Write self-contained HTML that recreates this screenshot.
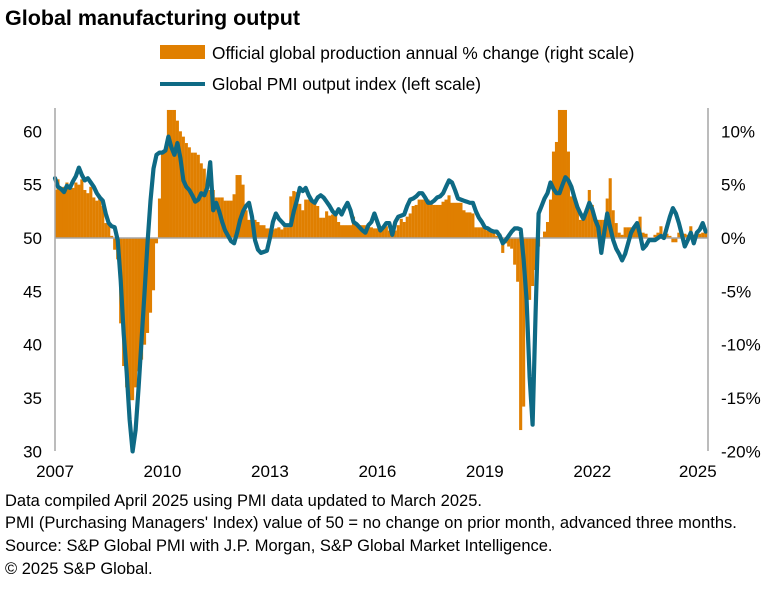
<!DOCTYPE html>
<html><head><meta charset="utf-8">
<style>
body{margin:0;background:#fff;width:775px;height:585px;overflow:hidden;font-family:"Liberation Sans",Arial,sans-serif;}
svg text{font-family:"Liberation Sans",Arial,sans-serif;}
</style></head>
<body>
<svg id="chart" width="775" height="585" xmlns="http://www.w3.org/2000/svg">
<text x="5" y="25" font-size="21.5" font-weight="bold" fill="#000">Global manufacturing output</text>
<g>
<rect x="160" y="45" width="45" height="14" fill="#E07F00"/>
<text x="212" y="59" font-size="17.3" fill="#000">Official global production annual % change (right scale)</text>
<line x1="160" y1="84" x2="205" y2="84" stroke="#0E6A85" stroke-width="4"/>
<text x="212" y="90" font-size="17.3" fill="#000">Global PMI output index (left scale)</text>
</g>
<g id="plot"></g>
<g font-size="16.5" fill="#000">
<text x="5" y="506">Data compiled April 2025 using PMI data updated to March 2025.</text>
<text x="5" y="528">PMI (Purchasing Managers' Index) value of 50 = no change on prior month, advanced three months.</text>
<text x="5" y="551">Source: S&amp;P Global PMI with J.P. Morgan, S&amp;P Global Market Intelligence.</text>
<text x="5" y="574">© 2025 S&amp;P Global.</text>
</g>
</svg>
<script>
const pmi = [
55.6,54.8,54.6,54.3,54.9,54.7,55.3,55.8,56.6,55.9,55.4,55.6,
55.2,54.8,54.2,53.8,53.5,52.3,51.4,51.1,51,49.8,46,41,
37.5,33,30,32,36,40.5,45,49.5,53.5,56.5,57.8,58,
58,58.2,59.5,58.5,57.8,58.9,57.5,55.4,54.8,54.5,54,53.4,
53.6,54.2,54,54.7,57.1,52.6,53.3,52.5,51.5,50.7,50.2,49.7,
49.5,50.5,51.7,52.5,53,53.3,52,49.8,48.9,48.6,48.7,48.8,
50,51.5,52.3,51.8,51.5,51.2,51.2,51.2,52.5,53.5,54.7,54.4,
54.7,54,53.5,53.3,53.8,54,53.8,53.4,53,52.5,52.2,52.7,
52.2,52.8,53.3,52.6,51.5,51.3,51,50.7,50.5,51.2,51.5,52.3,
51.5,50.7,51,51.4,51.4,50.3,51.5,52,52.1,52.2,53,53.6,
53.7,53.9,54.2,54.2,53.8,53.3,53.3,53.5,53.8,53.9,54.2,54.8,
55.4,55.2,54.5,53.7,53.6,53.5,53.4,53.3,53.3,52.5,51.9,51.5,
51,50.9,50.7,50.6,50.6,50.2,49.5,49.8,50.2,50.6,50.9,50.9,
50.8,48,44.2,37,32.5,43,52.3,53,53.7,54.2,55.2,54.6,
54.2,54.2,55,55.7,55.4,54.8,53.8,52.9,52.3,51.8,52.5,53.3,
52.7,51.7,51,48.6,50.5,52.3,51,49.8,49,48.5,47.9,48.5,
49.5,50.5,51,51.4,50.3,49,49.3,49.8,49.8,49.8,50,50.2,
50,51,52,52.8,52.3,51.4,50.3,49.2,49.8,50.5,49.5,50.5,
50.8,51.4,50.6];
const production = [
4.5,5.5,4.5,4.8,5.2,4.8,4.7,5.2,5,5.5,4.5,4.2,
4.8,3.8,3.5,3.8,3,1.4,1.3,0.2,-1.1,-2,-8,-12,
-14,-15.2,-15.2,-14,-12.5,-11.4,-10,-8.9,-7,-4.9,-0.5,3.7,
8.2,8.2,12,12,12,11,10,9.5,8.9,8.5,8,8,
7.8,7,6.5,4.5,4.5,4.5,3.8,3.8,3.8,3.5,3.5,3.5,
4.1,5.9,5.9,5,2.6,1.7,1.7,1.7,1.5,1.2,1.2,0.9,
0.9,0.8,0.9,1,0.8,1,1,3.9,4.4,4.3,3.2,2.6,
3.6,3.6,3.6,3.3,3,1.9,1.9,2.5,2.1,2.2,2.2,1.5,
1.2,1.2,1.2,1.2,2,1.3,1.2,1.2,1.2,1.2,1,0.9,
0.9,0.9,0.9,1.1,0.7,0.7,0.7,1.2,1.8,1.5,2,2.3,
3,3.1,3.6,3.6,3.6,3.6,3.3,3.1,3.1,3.1,3.4,3.6,
4,3.3,3.3,3.3,3.3,2.6,2.4,2.4,2.3,1,1,1,
1.1,0.7,0.7,0.6,0.2,0.4,-1.4,-0.5,-0.8,-1,-2.5,-4.1,
-18,-15.8,-6.8,-5.8,-4.5,-3,-0.8,0,0.6,1.5,3.6,8.1,
9,12,12,12,8.1,3.9,3.9,2.7,1.7,1.7,2.7,4.5,
3.1,1.7,1.7,1.7,1.7,3.7,5.6,2.6,1.4,0.5,0.3,1,
1,1,1,1.1,2,0.5,0.4,-0.3,0,0.3,0.5,1.1,
0.3,0.4,0.2,-0.4,-0.4,0.5,0.4,0.4,0.3,1.1,0.3,0.5,
0.4,0.5,0.5];
const leftTicks = [60,55,50,45,40,35,30];
const rightTicks = ["10%","5%","0%","-5%","-10%","-15%","-20%"];
const rightTickValues = [10,5,0,-5,-10,-15,-20];
const yearLabels = ["2007","2010","2013","2016","2019","2022","2025"];
const yearMonthIndex = [0,36,72,108,144,180,216];

const NS = "http://www.w3.org/2000/svg";
const PL = 55, PR = 708, PT = 108, PB = 451;
const xOf = i => PL + i * 2.985;
const yL = v => 238 - (v - 50) * 10.67;
const yR = p => 238 - p * 10.67;
const plot = document.getElementById('plot');
function mk(tag, attrs){const e=document.createElementNS(NS,tag);for(const k in attrs)e.setAttribute(k,attrs[k]);return e;}

const defs = mk('defs',{});
const cp = mk('clipPath',{id:'clip'});
cp.appendChild(mk('rect',{x:PL,y:PT,width:PR-PL,height:PB-PT}));
defs.appendChild(cp); plot.appendChild(defs);

const bars = mk('g',{'clip-path':'url(#clip)'});


production.forEach((p,i)=>{
  const y0=yR(0), y1=yR(p);
  const r=mk('rect',{x:xOf(i)-1.55,y:Math.min(y0,y1),width:3.1,height:Math.abs(y1-y0),fill:'#E07F00'});
  
  
  bars.appendChild(r);
});
plot.appendChild(bars);

const zero = mk('line',{x1:PL,x2:PR,y1:238,y2:238,stroke:'#A6A6A6','stroke-width':1.5});


plot.appendChild(zero);

const d = pmi.map((v,i)=>(i?'L':'M')+xOf(i).toFixed(1)+','+yL(v).toFixed(1)).join('');
const line = mk('path',{d:d,fill:'none',stroke:'#0E6A85','stroke-width':4.2,'stroke-linejoin':'round','stroke-linecap':'round'});


plot.appendChild(line);

const la = mk('line',{x1:PL,x2:PL,y1:PT,y2:PB,stroke:'#A6A6A6','stroke-width':1.5});


plot.appendChild(la);
const ra = mk('line',{x1:PR,x2:PR,y1:PT,y2:PB,stroke:'#A6A6A6','stroke-width':1.5});


plot.appendChild(ra);

leftTicks.forEach(v=>{
  const t=mk('text',{x:42,y:yL(v)+6,'text-anchor':'end','font-size':17,fill:'#000'});
  t.textContent=v;
  
  
  plot.appendChild(t);
});
rightTicks.forEach((s,k)=>{
  const t=mk('text',{x:721,y:yR(rightTickValues[k])+6,'font-size':17,fill:'#000'});
  t.textContent=s;
  
  
  plot.appendChild(t);
});
yearLabels.forEach((s,k)=>{
  const t=mk('text',{x:xOf(yearMonthIndex[k])-(k==6?2:0),y:477,'text-anchor':'middle','font-size':17,fill:'#000'});
  t.textContent=s;
  
  
  plot.appendChild(t);
});
</script>
</body></html>
